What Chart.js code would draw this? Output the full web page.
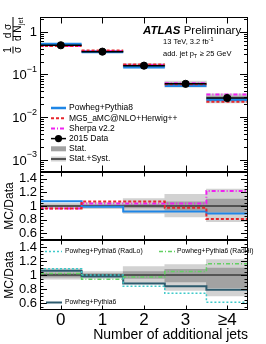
<!DOCTYPE html>
<html>
<head>
<meta charset="utf-8">
<script src="https://cdn.jsdelivr.net/npm/chart.js@4.4.0/dist/chart.umd.min.js"></script>
<style>
  html, body { margin: 0; padding: 0; background: #fff; }
  #wrap { width: 266px; height: 344px; }
</style>
</head>
<body>
<div id="wrap"><canvas id="chart" width="266" height="344"></canvas></div>
<script>
// bins
const categories = ['0', '1', '2', '3', '≥4'];

// top panel: 1/sigma dsigma/dNjet
const dataXs   = [0.48, 0.34, 0.16, 0.060, 0.028];
const powPy8Xs = [0.51, 0.34, 0.148, 0.055, 0.0256];
const mg5Xs    = [0.46, 0.36, 0.17, 0.059, 0.023];
const sherpaXs = [0.46, 0.35, 0.165, 0.062, 0.034];
const statLoXs = [0.47, 0.335, 0.155, 0.057, 0.0255];
const statHiXs = [0.49, 0.345, 0.165, 0.063, 0.031];
const systLoXs = [0.46, 0.325, 0.142, 0.050, 0.0215];
const systHiXs = [0.50, 0.355, 0.178, 0.070, 0.035];

// middle panel: MC/Data
const powPy8Ratio = [1.07, 0.99, 0.92, 0.92, 0.89];
const mg5Ratio    = [0.965, 1.065, 1.065, 0.975, 0.81];
const sherpaRatio = [0.965, 1.035, 1.035, 1.035, 1.22];
const midStatLo = [0.985, 0.985, 0.97, 0.94, 0.91];
const midStatHi = [1.015, 1.02, 1.03, 1.06, 1.10];
const midSystLo = [0.96, 0.96, 0.89, 0.84, 0.77];
const midSystHi = [1.04, 1.05, 1.11, 1.17, 1.25];

// bottom panel: MC/Data, Pythia6 variations
const powPy6Ratio = [1.06, 0.98, 0.88, 0.84, 0.79];
const radLoRatio  = [1.09, 1.00, 0.84, 0.74, 0.61];
const radHiRatio  = [1.02, 0.94, 0.97, 1.05, 1.16];
const botStatLo = [0.97, 0.98, 0.95, 0.90, 0.82];
const botStatHi = [1.03, 1.02, 1.05, 1.08, 1.10];
const botSystLo = [0.94, 0.95, 0.88, 0.78, 0.70];
const botSystHi = [1.09, 1.05, 1.12, 1.15, 1.22];

const logTicks = [1, 0.1, 0.01, 0.001];
const logTickExp = ['', '−1', '−2', '−3'];
const ratioTicks = [0.6, 0.8, 1, 1.2, 1.4];
const ratioTickLabels = ['0.6', '0.8', '1', '1.2', '1.4'];

const topNames = ['Powheg+Pythia8', 'MG5_aMC@NLO+Herwig++', 'Sherpa v2.2', '2015 Data', 'Stat.', 'Stat.+Syst.'];
const botNames = ['Powheg+Pythia6 (RadLo)', 'Powheg+Pythia6 (RadHi)', 'Powheg+Pythia6'];

const C = {
  blue: '#1f86e6', red: '#e8252c', magenta: '#f020f0', black: '#000',
  teal: '#2d5b6e', cyan: '#3fc9c9', green: '#62d062',
  stat: '#a2a2a2', syst: '#d2d2d2'
};
const FONT = '"Liberation Sans", Arial, Helvetica, sans-serif';
Chart.defaults.font.family = FONT;
Chart.defaults.color = '#000';

// histogram helpers
const edges = categories.map((c, i) => i - 0.5).concat(categories.length - 0.5);
function stepPts(vals) {
  return edges.map((x, i) => ({ x, y: vals[Math.min(i, vals.length - 1)] }));
}
function segPts(vals) {
  const pts = [];
  vals.forEach((v, i) => { pts.push({ x: i - 0.5, y: v }, { x: i + 0.5, y: v }, { x: i + 0.5, y: null }); });
  return pts;
}
function bandPts(lo, hi) {
  return lo.map((l, i) => ({ x: i, y: [l, hi[i]] }));
}

function band(lo, hi, color, axis, order) {
  return { type: 'bar', data: bandPts(lo, hi), yAxisID: axis, backgroundColor: color,
    borderWidth: 0, barPercentage: 1, categoryPercentage: 1, grouped: false, order };
}
function line(pts, color, axis, width, dash, stepped, order) {
  return { type: 'line', data: pts, yAxisID: axis, borderColor: color, borderWidth: width,
    borderDash: dash, stepped, pointRadius: 0, fill: false, spanGaps: false, order };
}

const datasets = [
  // top
  band(systLoXs, systHiXs, C.syst, 'yTop', 20),
  band(statLoXs, statHiXs, C.stat, 'yTop', 19),
  line(segPts(powPy8Xs), C.blue, 'yTop', 3, [], false, 8),
  line(segPts(sherpaXs), C.magenta, 'yTop', 2, [4, 2, 1, 2], false, 7),
  line(segPts(mg5Xs), C.red, 'yTop', 2, [3, 2], false, 6),
  line(segPts(dataXs), C.black, 'yTop', 1.5, [], false, 2),
  { type: 'scatter', data: dataXs.map((v, i) => ({ x: i, y: v })), yAxisID: 'yTop',
    pointRadius: 3.6, pointBackgroundColor: C.black, pointBorderColor: C.black, order: 1 },
  // middle
  band(midSystLo, midSystHi, C.syst, 'yMid', 20),
  band(midStatLo, midStatHi, C.stat, 'yMid', 19),
  line([{ x: edges[0], y: 1 }, { x: edges[edges.length - 1], y: 1 }], C.black, 'yMid', 1.2, [], false, 9),
  line(stepPts(powPy8Ratio), C.blue, 'yMid', 2, [], 'before', 8),
  line(stepPts(sherpaRatio), C.magenta, 'yMid', 2, [4, 2, 1, 2], 'before', 7),
  line(stepPts(mg5Ratio), C.red, 'yMid', 2, [3, 2], 'before', 6),
  // bottom
  band(botSystLo, botSystHi, C.syst, 'yBot', 20),
  band(botStatLo, botStatHi, C.stat, 'yBot', 19),
  line([{ x: edges[0], y: 1 }, { x: edges[edges.length - 1], y: 1 }], '#555', 'yBot', 2, [], false, 9),
  line(stepPts(powPy6Ratio), C.teal, 'yBot', 2, [], 'before', 8),
  line(stepPts(radHiRatio), C.green, 'yBot', 1.5, [4, 2, 1, 2], 'before', 7),
  line(stepPts(radLoRatio), C.cyan, 'yBot', 1.5, [2, 2], 'before', 6)
];

function ratioAxis(weight) {
  return {
    type: 'linear', position: 'left', stack: 'panels', stackWeight: weight,
    min: 0.5, max: 1.5,
    afterBuildTicks: s => { s.ticks = ratioTicks.map(v => ({ value: v })); },
    afterFit: s => { s.width = 40; },
    grid: { display: false, drawTicks: false }, border: { display: false },
    ticks: { font: { size: 13 }, color: '#000', padding: 3, autoSkip: false,
      callback: v => ratioTickLabels[ratioTicks.indexOf(v)] },
    title: { display: true, text: 'MC/Data', font: { size: 12 }, color: '#000', padding: { top: 2, bottom: 0 } }
  };
}

// frame, inward ticks, legends and labels
const decor = {
  id: 'decor',
  afterDraw(chart) {
    const { ctx, chartArea: ca, scales } = chart;
    const xs = scales.x;
    ctx.save();
    ctx.strokeStyle = '#000';
    ctx.lineWidth = 1;
    ['yTop', 'yMid', 'yBot'].forEach(id => {
      const s = scales[id];
      const top = Math.round(s.top) + 0.5, bot = Math.round(s.bottom) - 0.5;
      ctx.strokeRect(ca.left + 0.5, top, ca.right - ca.left - 1, bot - top);
      const xl = id === 'yTop' ? 6 : 4;
      categories.forEach((c, i) => {
        const px = Math.round(xs.getPixelForValue(i)) + 0.5;
        ctx.beginPath();
        ctx.moveTo(px, top); ctx.lineTo(px, top + xl);
        ctx.moveTo(px, bot); ctx.lineTo(px, bot - xl);
        ctx.stroke();
      });
      const yt = [];
      if (id === 'yTop') {
        for (let d = -4; d <= 0; d++) for (let m = 1; m <= 9; m++) {
          const v = m * Math.pow(10, d);
          if (v >= s.min && v <= s.max) yt.push([v, m === 1 ? 8 : 4]);
        }
      } else {
        for (let k = 0; k <= 20; k++) {
          const v = s.min + k * 0.05;
          const major = Math.abs(v * 5 - Math.round(v * 5)) < 1e-6;
          yt.push([v, major ? 7 : 3.5]);
        }
      }
      yt.forEach(([v, len]) => {
        const py = Math.round(s.getPixelForValue(v)) + 0.5;
        if (py < top || py > bot) return;
        ctx.beginPath();
        ctx.moveTo(ca.left, py); ctx.lineTo(ca.left + len, py);
        ctx.moveTo(ca.right, py); ctx.lineTo(ca.right - len, py);
        ctx.stroke();
      });
    });

    // log tick labels with superscripts
    const sTop = scales.yTop;
    ctx.fillStyle = '#000';
    ctx.textBaseline = 'middle';
    logTicks.forEach((v, i) => {
      const py = sTop.getPixelForValue(v);
      const xr = ca.left - 3;
      if (!logTickExp[i]) {
        ctx.font = '13px ' + FONT; ctx.textAlign = 'right';
        ctx.fillText('1', xr, py + 1);
        return;
      }
      ctx.font = '9px ' + FONT; ctx.textAlign = 'right';
      ctx.fillText(logTickExp[i], xr, py - 5);
      const w = ctx.measureText(logTickExp[i]).width;
      ctx.font = '13px ' + FONT;
      ctx.fillText('10', xr - w, py + 1.5);
    });

    // top y title: 1/sigma dsigma/dN_jet (rotated)
    ctx.save();
    ctx.translate(13, 50);
    ctx.rotate(-Math.PI / 2);
    ctx.textAlign = 'center';
    ctx.textBaseline = 'alphabetic';
    ctx.font = '10px ' + FONT;
    ctx.fillText('1', 0, -2);
    ctx.fillText('σ', 0, 8);
    ctx.fillRect(-3.5, -0.5, 7, 1);
    ctx.fillText('d σ', 19, -2);
    ctx.fillRect(9, -0.5, 24, 1);
    ctx.textAlign = 'left';
    ctx.fillText('d N', 9, 8);
    ctx.font = '7px ' + FONT;
    ctx.fillText('jet', 25, 10);
    ctx.restore();

    // ATLAS label
    ctx.textAlign = 'left';
    ctx.textBaseline = 'alphabetic';
    ctx.font = 'italic bold 11.5px ' + FONT;
    ctx.fillText('ATLAS', 143, 34);
    const aw = ctx.measureText('ATLAS ').width;
    ctx.font = '11.5px ' + FONT;
    ctx.fillText('Preliminary', 143 + aw, 34);
    ctx.font = '7.5px ' + FONT;
    ctx.fillText('13 TeV, 3.2 fb', 163, 44);
    let w = ctx.measureText('13 TeV, 3.2 fb').width;
    ctx.font = '5.5px ' + FONT;
    ctx.fillText('-1', 163 + w, 40.5);
    ctx.font = '7.5px ' + FONT;
    ctx.fillText('add. jet p', 163, 56);
    w = ctx.measureText('add. jet p').width;
    ctx.font = '5.5px ' + FONT;
    ctx.fillText('T', 163 + w, 58);
    ctx.font = '7.5px ' + FONT;
    ctx.fillText('≥ 25 GeV', 163 + w + 6, 56);

    // top legend
    const lx0 = 51, lx1 = 66, tx = 69;
    ctx.textBaseline = 'middle';
    ctx.font = '8.5px ' + FONT;
    const rows = topNames.map((n, i) => 108 + i * 10.2);
    const sample = (y, color, width, dash) => {
      ctx.save();
      ctx.strokeStyle = color; ctx.lineWidth = width; ctx.setLineDash(dash);
      ctx.beginPath(); ctx.moveTo(lx0, y); ctx.lineTo(lx1, y); ctx.stroke();
      ctx.restore();
    };
    sample(rows[0], C.blue, 2.5, []);
    sample(rows[1], C.red, 2, [3, 2]);
    sample(rows[2], C.magenta, 2, [4, 2, 1, 2]);
    sample(rows[3], C.black, 1.5, []);
    ctx.beginPath(); ctx.arc((lx0 + lx1) / 2, rows[3], 3.6, 0, Math.PI * 2); ctx.fill();
    ctx.fillStyle = C.stat; ctx.fillRect(lx0, rows[4] - 2.5, lx1 - lx0, 5);
    ctx.fillStyle = C.syst; ctx.fillRect(lx0, rows[5] - 2.5, lx1 - lx0, 5);
    sample(rows[5], C.black, 1.2, []);
    ctx.fillStyle = '#000';
    topNames.forEach((n, i) => ctx.fillText(n, tx, rows[i]));

    // bottom legend
    const sBot = scales.yBot;
    ctx.font = '6.8px ' + FONT;
    const by = sBot.top + 11.5;
    const bsample = (x0, x1, y, color, width, dash) => {
      ctx.save();
      ctx.strokeStyle = color; ctx.lineWidth = width; ctx.setLineDash(dash);
      ctx.beginPath(); ctx.moveTo(x0, y); ctx.lineTo(x1, y); ctx.stroke();
      ctx.restore();
    };
    bsample(45, 62, by, C.cyan, 1.5, [2, 2]);
    ctx.fillText(botNames[0], 65, by);
    bsample(159, 175, by, C.green, 1.5, [4, 2, 1, 2]);
    ctx.fillText(botNames[1], 177, by);
    const by2 = sBot.bottom - 7.5;
    bsample(46, 62, by2, C.teal, 2, []);
    ctx.fillText(botNames[2], 65, by2);
    ctx.restore();
  }
};

new Chart(document.getElementById('chart'), {
  data: { datasets },
  options: {
    responsive: false,
    animation: false,
    layout: { padding: { left: 0, right: 18, top: 17, bottom: 0 } },
    plugins: { legend: { display: false }, tooltip: { enabled: false } },
    scales: {
      x: {
        type: 'linear', position: 'bottom', min: -0.5, max: 4.5, offset: false,
        afterBuildTicks: s => { s.ticks = categories.map((c, i) => ({ value: i })); },
        afterFit: s => { s.height = 34; },
        grid: { display: false, drawTicks: false, offset: false }, border: { display: false },
        ticks: { font: { size: 17 }, color: '#000', padding: 0, maxRotation: 0, autoSkip: false,
          callback: v => categories[v] },
        title: { display: true, text: 'Number of additional jets', align: 'end',
          font: { size: 14 }, color: '#000', padding: 0 }
      },
      yBot: ratioAxis(70),
      yMid: ratioAxis(68),
      yTop: {
        type: 'logarithmic', position: 'left', stack: 'panels', stackWeight: 155,
        min: 5.2e-4, max: 2.2,
        afterFit: s => { s.width = 40; },
        grid: { display: false, drawTicks: false }, border: { display: false },
        ticks: { display: false }
      }
    }
  },
  plugins: [decor]
});
</script>
</body>
</html>
